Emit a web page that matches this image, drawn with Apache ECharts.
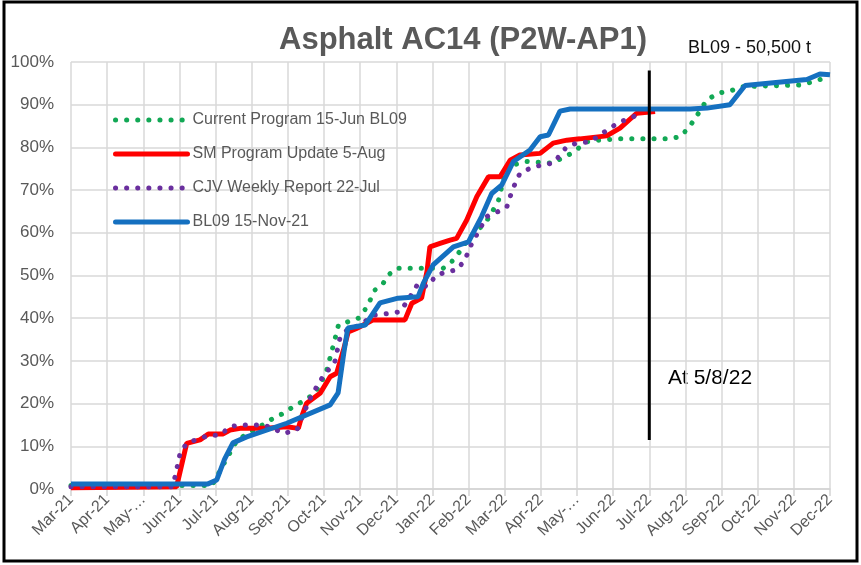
<!DOCTYPE html>
<html>
<head>
<meta charset="utf-8">
<script src="https://cdn.jsdelivr.net/npm/echarts@6/dist/echarts.min.js"></script>
<style>
  html, body { margin: 0; padding: 0; background: #fff; }
  #chart { width: 861px; height: 565px; }
</style>
</head>
<body>
<div id="chart"></div>
<script>
// month tick labels (x = month index from Mar-21)
const monthLabels = ['Mar-21', 'Apr-21', 'May-…', 'Jun-21', 'Jul-21', 'Aug-21', 'Sep-21', 'Oct-21', 'Nov-21', 'Dec-21',
  'Jan-22', 'Feb-22', 'Mar-22', 'Apr-22', 'May-…', 'Jun-22', 'Jul-22', 'Aug-22', 'Sep-22', 'Oct-22', 'Nov-22', 'Dec-22'];

const seriesNames = ['Current Program 15-Jun BL09', 'SM Program Update 5-Aug', 'CJV Weekly Report 22-Jul', 'BL09 15-Nov-21'];

// [month index, % complete]
const currentProgram = [[0,0.8],[3.9,0.8],[4.3,7],[4.6,11.5],[5.0,13.5],[5.3,15],[5.6,16.6],[5.87,17.7],[6.15,19.3],[6.47,20.8],[6.75,22.4],
  [7.05,27],[7.3,35],[7.4,38.4],[7.67,39.2],[7.95,40],[8.18,42.5],[8.41,46.6],[8.64,48.2],[8.78,50.1],[9.01,51.7],[10.3,51.7],
  [10.53,53.2],[10.72,55.2],[11.04,59.1],[11.46,62.2],[11.82,67.3],[11.95,72],[12.05,75.5],[12.61,76.7],[13.3,76.3],[13.76,78.2],
  [14.04,79.8],[14.27,81.3],[14.59,81.7],[15.19,82],[16.53,82],[16.85,82.5],[17.08,84.5],[17.27,86.8],[17.59,91.1],[17.91,92.7],
  [18.23,93.2],[18.56,94.2],[19.2,94.4],[20.17,94.6],[20.54,95.4],[20.91,96.4],[21,96.6]];

const smUpdate = [[0,0.3],[2.92,0.5],[3.2,10.7],[3.57,11.5],[3.8,12.9],[4.21,12.9],[4.4,13.8],[4.68,14.2],[5.41,14.2],[5.97,14.6],
  [6.29,14.2],[6.38,16.9],[6.52,20.1],[6.89,22.4],[7.17,26.3],[7.35,27.1],[7.54,32.6],[7.67,36.8],[7.9,37.6],[8.18,38.8],[8.36,39.6],
  [9.24,39.6],[9.43,43.5],[9.7,44.7],[9.85,51],[9.93,56.7],[10.21,57.5],[10.49,58.3],[10.67,58.7],[10.95,63],[11.23,68.5],[11.55,73.1],
  [11.87,73.1],[12.15,77],[12.42,78.2],[12.98,78.6],[13.34,81],[13.72,81.7],[14.08,82.0],[14.82,82.7],[15.19,84.5],[15.65,88],[16.16,88.4]];

const cjvWeekly = [[0,0.5],[2.8,0.5],[2.88,2.9],[3.02,8.4],[3.2,10.7],[3.57,11.9],[3.85,12.6],[4.12,12.6],[4.4,14.6],[4.68,15],[5.32,15],
  [5.6,14.2],[5.87,13],[6.25,13.8],[6.45,18],[6.66,22],[6.94,25.9],[7.3,29.8],[7.44,35.3],[7.63,37.2],[8.0,38.4],[8.36,40.7],[8.78,41.1],
  [9.1,41.5],[9.33,44.3],[9.61,48.2],[9.84,47.4],[10.12,50.1],[10.4,50.9],[10.67,51.3],[10.9,53.6],[11.04,56.7],[11.5,63.8],[11.82,65],
  [12.06,66.1],[12.15,68.5],[12.29,71.6],[12.42,73.9],[12.7,75.1],[13.02,75.9],[13.34,76.3],[13.53,78.2],[13.72,80.2],[13.99,81],
  [14.36,81.3],[14.91,84.5],[15.19,86],[15.47,86.8],[15.8,88.2]];

const bl09 = [[0,1.2],[3.79,1.2],[4.03,2.1],[4.25,7],[4.48,10.8],[4.86,12.2],[5.97,15.4],[7.17,19.7],[7.39,22.5],[7.55,32],[7.66,37.7],
  [8.14,38.4],[8.55,43.6],[9.05,44.7],[9.6,45.0],[9.75,48.2],[10.02,52.5],[10.58,56.7],[11.0,57.9],[11.36,63.8],[11.64,69.2],[11.92,71.2],
  [12.24,76.7],[12.7,79.4],[12.98,82.5],[13.21,82.9],[13.53,88.5],[13.81,89.0],[17.13,89.0],[17.6,89.2],[18.23,90.0],[18.65,94.5],
  [20.36,95.9],[20.72,97.2],[21,97.0]];

// "At 5/8/22" marker line
const statusLine = [[16,11.5],[16,98]];

const chart = echarts.init(document.getElementById('chart'));

const textGrey = '#595959';
const dotted = (color) => ({ width: 5, color: color, type: [0.1, 11], cap: 'round' });

chart.setOption({
  backgroundColor: '#fff',
  animation: false,
  title: [
    { text: 'Asphalt AC14 (P2W-AP1)', left: 274, top: 20,
      textStyle: { fontFamily: 'Liberation Sans', fontSize: 31, fontWeight: 'bold', color: textGrey } },
    { text: 'BL09 - 50,500 t', left: 683, top: 34,
      textStyle: { fontFamily: 'Liberation Sans', fontSize: 18, fontWeight: 'normal', color: '#111' } }
  ],
  legend: {
    data: seriesNames,
    orient: 'vertical',
    left: 108,
    top: 107,
    itemWidth: 72,
    itemHeight: 16,
    itemGap: 18,
    itemStyle: { opacity: 0 },
    lineStyle: { width: 5, cap: 'round' },
    textStyle: { fontFamily: 'Liberation Sans', fontSize: 16, color: textGrey }
  },
  grid: { left: 71, right: 31, top: 62, bottom: 76 },
  xAxis: {
    type: 'value',
    min: 0,
    max: 21,
    interval: 1,
    axisLine: { show: true, lineStyle: { color: '#d4d4d4', width: 1.5 } },
    axisTick: { show: true, length: 7, lineStyle: { color: '#d4d4d4', width: 1.5 } },
    splitLine: { show: true, lineStyle: { color: '#d9d9d9', width: 1.5 } },
    axisLabel: {
      rotate: 45,
      margin: 8,
      fontFamily: 'Liberation Sans',
      fontSize: 16,
      color: textGrey,
      formatter: (v) => monthLabels[v] || ''
    }
  },
  yAxis: {
    type: 'value',
    min: 0,
    max: 100,
    interval: 10,
    axisLine: { show: false },
    axisTick: { show: false },
    splitLine: { show: true, lineStyle: { color: '#d9d9d9', width: 1.5 } },
    axisLabel: { fontFamily: 'Liberation Sans', fontSize: 17, color: textGrey, margin: 17, formatter: '{value}%' }
  },
  series: [
    { name: seriesNames[0], type: 'line', data: currentProgram, symbol: 'none', lineStyle: dotted('#12a855'), itemStyle: { color: '#12a855' } },
    { name: seriesNames[1], type: 'line', data: smUpdate, symbol: 'none', lineStyle: { width: 5, color: '#ff0000' }, itemStyle: { color: '#ff0000' } },
    { name: seriesNames[2], type: 'line', data: cjvWeekly, symbol: 'none', lineStyle: dotted('#6a2f9e'), itemStyle: { color: '#6a2f9e' } },
    { name: seriesNames[3], type: 'line', data: bl09, symbol: 'none', lineStyle: { width: 5, color: '#1570c0' }, itemStyle: { color: '#1570c0' } },
    { name: 'At 5/8/22', type: 'line', data: statusLine, symbol: 'none', lineStyle: { width: 3, color: '#000' }, z: 5 }
  ],
  graphic: [
    { type: 'text', left: 668, top: 368,
      style: { text: 'At 5/8/22', fontFamily: 'Liberation Sans', fontSize: 21, fill: '#000' } },
    { type: 'rect', shape: { x: 4, y: 2, width: 853, height: 559 },
      style: { fill: 'none', stroke: '#000', lineWidth: 3 }, silent: true }
  ]
});
</script>
</body>
</html>
